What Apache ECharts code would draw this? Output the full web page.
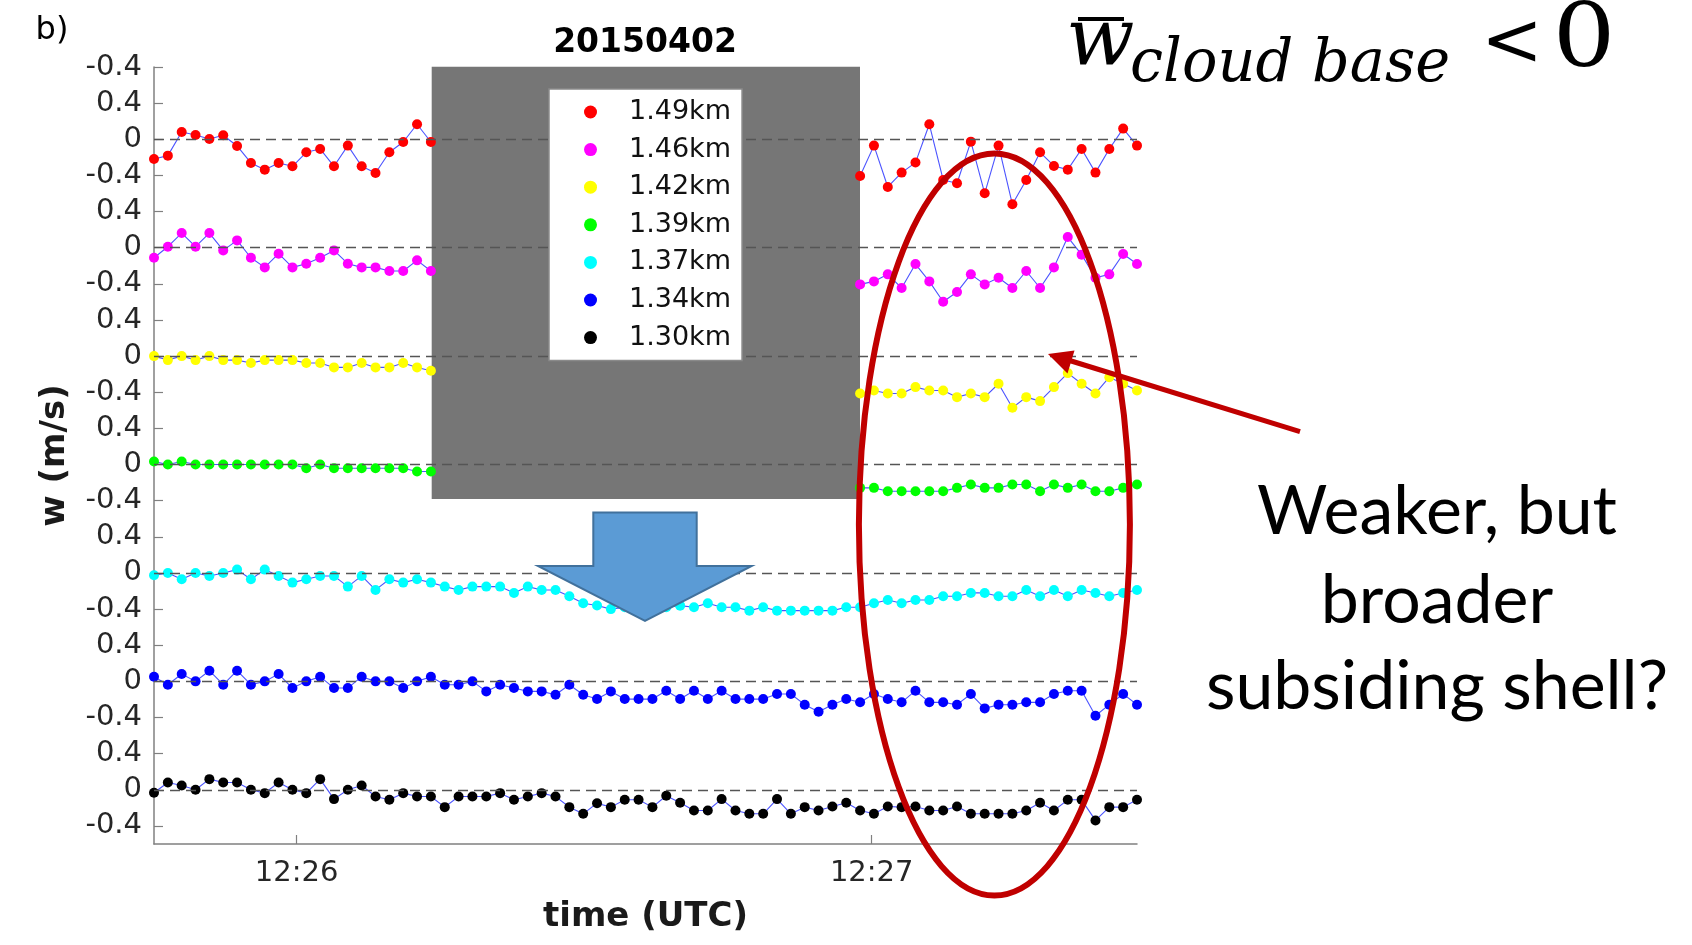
<!DOCTYPE html>
<html><head><meta charset="utf-8">
<script src="https://cdn.jsdelivr.net/npm/echarts@6/dist/echarts.min.js"></script>
<style>html,body{margin:0;padding:0;background:#fff}#c{width:1692px;height:945px}</style>
</head><body><div id="c"></div>
<script>
// ---- data ----
const seriesNames = ['1.49km','1.46km','1.42km','1.39km','1.37km','1.34km','1.30km'];
const markerColors = ['#ff0000','#ff00ff','#ffff00','#00ff00','#00ffff','#0000ff','#000000'];
const bandOffsets = [7.2, 6.0, 4.8, 3.6, 2.4, 1.2, 0];
// sample timing (seconds after 12:26:00)
const T0 = -14.87, DT = 1.4443;
const NSAMP = 72;
const GAP_START = 21, GAP_END = 51; // top four heights: samples 21..50 missing

// top four heights: samples 0..20 and 51..71
const red_a = [-0.218,-0.181,0.081,0.048,0.004,0.044,-0.074,-0.262,-0.336,-0.262,-0.299,-0.144,-0.107,-0.299,-0.070,-0.299,-0.373,-0.144,-0.030,0.166,-0.030];
const red_b = [-0.406,-0.070,-0.528,-0.369,-0.258,0.166,-0.450,-0.487,-0.026,-0.598,-0.070,-0.720,-0.450,-0.144,-0.295,-0.336,-0.107,-0.369,-0.107,0.118,-0.070];
const mag_a = [-0.111,0.011,0.162,0.011,0.162,-0.030,0.081,-0.111,-0.218,-0.066,-0.218,-0.177,-0.111,-0.030,-0.177,-0.218,-0.218,-0.258,-0.258,-0.140,-0.258];
const mag_b = [-0.406,-0.373,-0.295,-0.446,-0.181,-0.373,-0.598,-0.491,-0.295,-0.406,-0.332,-0.446,-0.258,-0.446,-0.218,0.118,-0.077,-0.332,-0.295,-0.070,-0.181];
const yel_a = [0,-0.044,0,-0.044,0,-0.044,-0.044,-0.077,-0.044,-0.044,-0.044,-0.077,-0.077,-0.125,-0.125,-0.077,-0.125,-0.125,-0.077,-0.125,-0.162];
const yel_b = [-0.413,-0.380,-0.413,-0.413,-0.343,-0.380,-0.380,-0.454,-0.413,-0.454,-0.306,-0.572,-0.454,-0.498,-0.343,-0.188,-0.306,-0.413,-0.233,-0.306,-0.380];
const grn_a = [0.033,0,0.033,0,0,0,0,0,0,0,0,-0.041,0,-0.041,-0.041,-0.041,-0.041,-0.041,-0.041,-0.077,-0.077];
const grn_b = [-0.258,-0.258,-0.295,-0.295,-0.295,-0.295,-0.295,-0.258,-0.221,-0.258,-0.258,-0.221,-0.221,-0.295,-0.221,-0.258,-0.221,-0.295,-0.295,-0.258,-0.221];
// lower three heights: all 72 samples
const cyan = [-0.026,0,-0.070,0,-0.033,0,0.037,-0.070,0.037,-0.033,-0.107,-0.070,-0.033,-0.033,-0.151,-0.033,-0.188,-0.070,-0.107,-0.070,
  -0.107,-0.151,-0.188,-0.151,-0.151,-0.151,-0.221,-0.151,-0.188,-0.188,-0.258,-0.336,-0.360,-0.400,-0.380,-0.360,-0.400,-0.380,-0.362,-0.380,
  -0.336,-0.380,-0.380,-0.417,-0.380,-0.417,-0.417,-0.417,-0.417,-0.417,-0.380,-0.380,-0.336,-0.299,-0.336,-0.299,-0.299,-0.258,-0.258,-0.221,
  -0.221,-0.258,-0.258,-0.188,-0.258,-0.188,-0.258,-0.188,-0.221,-0.258,-0.221,-0.188];
const blue = [0.052,-0.037,0.081,0,0.118,-0.037,0.118,-0.037,0,0.081,-0.074,0,0.052,-0.074,-0.074,0.052,0,0,-0.074,0,
  0.052,-0.037,-0.037,0,-0.111,-0.037,-0.074,-0.111,-0.111,-0.148,-0.037,-0.148,-0.196,-0.111,-0.196,-0.196,-0.196,-0.103,-0.196,-0.103,
  -0.196,-0.103,-0.196,-0.196,-0.196,-0.140,-0.140,-0.258,-0.336,-0.258,-0.196,-0.232,-0.140,-0.196,-0.232,-0.103,-0.232,-0.232,-0.258,-0.140,
  -0.299,-0.258,-0.258,-0.232,-0.232,-0.140,-0.103,-0.103,-0.380,-0.258,-0.140,-0.258];
const black = [-0.033,0.081,0.048,0,0.118,0.081,0.081,0,-0.037,0.081,0,-0.037,0.118,-0.103,0,0.048,-0.074,-0.111,-0.037,-0.074,
  -0.074,-0.192,-0.074,-0.074,-0.074,-0.037,-0.111,-0.074,-0.037,-0.074,-0.192,-0.266,-0.148,-0.192,-0.111,-0.111,-0.192,-0.066,-0.144,-0.229,
  -0.229,-0.103,-0.229,-0.266,-0.266,-0.103,-0.266,-0.192,-0.229,-0.185,-0.144,-0.229,-0.266,-0.185,-0.192,-0.185,-0.229,-0.229,-0.185,-0.266,
  -0.266,-0.266,-0.266,-0.229,-0.144,-0.229,-0.111,-0.111,-0.339,-0.192,-0.192,-0.111];

const yTickValues = [8.0,7.6,7.2,6.8,6.4,6.0,5.6,5.2,4.8,4.4,4.0,3.6,3.2,2.8,2.4,2.0,1.6,1.2,0.8,0.4,0,-0.4];
const yTickLabels = ['-0.4','0.4','0','-0.4','0.4','0','-0.4','0.4','0','-0.4','0.4','0','-0.4','0.4','0','-0.4','0.4','0','-0.4','0.4','0','-0.4'];
const xTickSeconds = [0, 60];
const xTickLabels = ['12:26','12:27'];

// ---- build ----
function tOf(i){ return T0 + DT * i; }
function splitSeries(a, b, off){
  const d = [];
  a.forEach((v,i)=>d.push([tOf(i), v + off]));
  d.push([tOf(GAP_START), '-']);
  b.forEach((v,i)=>d.push([tOf(GAP_END + i), v + off]));
  return d;
}
function fullSeries(a, off){ return a.map((v,i)=>[tOf(i), v + off]); }
const seriesData = [
  splitSeries(red_a, red_b, bandOffsets[0]),
  splitSeries(mag_a, mag_b, bandOffsets[1]),
  splitSeries(yel_a, yel_b, bandOffsets[2]),
  splitSeries(grn_a, grn_b, bandOffsets[3]),
  fullSeries(cyan, bandOffsets[4]),
  fullSeries(blue, bandOffsets[5]),
  fullSeries(black, bandOffsets[6])
];

const FONT = 'DejaVu Sans';
const series = seriesData.map((d, k) => ({
  name: seriesNames[k], type: 'line', data: d, clip: false,
  symbol: 'circle', symbolSize: 10, showSymbol: true, connectNulls: false,
  lineStyle: { color: 'rgba(30,40,255,0.8)', width: 1.1 },
  itemStyle: { color: markerColors[k] },
  emphasis: { disabled: true }, animation: false, z: 3,
  markLine: {
    silent: true, symbol: 'none', animation: false,
    label: { show: false },
    lineStyle: { color: '#555', type: [10, 6], width: 1.3 },
    data: [{ yAxis: bandOffsets[k] }]
  }
}));

const chart = echarts.init(document.getElementById('c'), null, { renderer: 'canvas' });
const ax = '#808080';
chart.setOption({
  animation: false,
  backgroundColor: '#fff',
  grid: { left: 154, top: 67, width: 983, height: 777, containLabel: false },
  xAxis: {
    type: 'value', min: T0, max: T0 + DT * (NSAMP - 1),
    axisLine: { show: true, onZero: false, lineStyle: { color: ax, width: 1.5 } },
    axisTick: { show: true, inside: true, length: 9, lineStyle: { color: ax, width: 1.2 }, customValues: xTickSeconds },
    axisLabel: { customValues: xTickSeconds, margin: 15, fontFamily: FONT, fontSize: 29, color: '#262626',
      formatter: v => xTickLabels[xTickSeconds.indexOf(Math.round(v))] },
    splitLine: { show: false },
    name: 'time (UTC)', nameLocation: 'middle', nameGap: 56,
    nameTextStyle: { fontFamily: FONT, fontWeight: 'bold', fontSize: 34, color: '#1a1a1a' }
  },
  yAxis: {
    type: 'value', min: -0.6, max: 8.0,
    axisLine: { show: true, onZero: false, lineStyle: { color: ax, width: 1.5 } },
    axisTick: { show: true, inside: true, length: 9, lineStyle: { color: ax, width: 1.2 }, customValues: yTickValues },
    axisLabel: { customValues: yTickValues, margin: 12, fontFamily: FONT, fontSize: 29, color: '#262626',
      formatter: v => yTickLabels[Math.round((8.0 - v) / 0.4)] },
    splitLine: { show: false },
    name: 'w (m/s)', nameLocation: 'middle', nameGap: 82, nameRotate: 90,
    nameTextStyle: { fontFamily: FONT, fontWeight: 'bold', fontSize: 34, color: '#1a1a1a' }
  },
  legend: {
    left: 549, top: 89, orient: 'vertical', selectedMode: false,
    backgroundColor: '#fff', borderColor: '#8a8a8a', borderWidth: 1.5, borderRadius: 0,
    padding: [8, 11, 8, 35], itemWidth: 13, itemHeight: 13, itemGap: 7.6, icon: 'circle',
    textStyle: { fontFamily: FONT, fontSize: 27, color: '#111', lineHeight: 30, padding: [0, 0, 0, 27] },
    data: seriesNames, z: 6
  },
  series: series,
  graphic: [
    { type: 'rect', z: 1, shape: { x: 431.7, y: 66.7, width: 428.3, height: 432.3 }, style: { fill: '#767676' } },
    { type: 'text', z: 10, x: 645, y: 43, style: { text: '20150402', font: 'bold 33px "DejaVu Sans"', fill: '#000', textAlign: 'center', textVerticalAlign: 'middle' } },
    { type: 'text', z: 10, x: 52, y: 31, style: { text: 'b)', font: '32px "DejaVu Sans"', fill: '#000', textAlign: 'center', textVerticalAlign: 'middle' } },
    { type: 'polygon', z: 10, shape: { points: [[593.3,512.6],[696.7,512.6],[696.7,566],[751.7,566],[645,621],[538,566],[593.3,566]] },
      style: { fill: '#5b9bd5', stroke: '#41719c', lineWidth: 2 } },
    { type: 'ellipse', z: 10, shape: { cx: 994.4, cy: 524.5, rx: 135.5, ry: 371 }, style: { fill: 'none', stroke: '#c00000', lineWidth: 6 } },
    { type: 'line', z: 10, shape: { x1: 1300, y1: 431.6, x2: 1068, y2: 360 }, style: { stroke: '#c00000', lineWidth: 5 } },
    { type: 'polygon', z: 10, shape: { points: [[1048,354],[1074.5,350.5],[1067.5,373.5]] }, style: { fill: '#c00000' } },
    { type: 'text', z: 10, x: 1437, y: 512, style: { text: 'Weaker, but', font: '68px Lato', fill: '#000', textAlign: 'center', textVerticalAlign: 'middle' } },
    { type: 'text', z: 10, x: 1437, y: 601, style: { text: 'broader', font: '68px Lato', fill: '#000', textAlign: 'center', textVerticalAlign: 'middle' } },
    { type: 'text', z: 10, x: 1437, y: 687, style: { text: 'subsiding shell?', font: '68px Lato', fill: '#000', textAlign: 'center', textVerticalAlign: 'middle' } },
    { type: 'text', z: 10, x: 1066, y: 44, style: { text: 'w', font: 'italic 80px "DejaVu Serif"', fill: '#000', textAlign: 'left', textVerticalAlign: 'middle' } },
    { type: 'line', z: 10, shape: { x1: 1078, y1: 19, x2: 1124, y2: 19 }, style: { stroke: '#000', lineWidth: 4 } },
    { type: 'text', z: 10, x: 1130, y: 66, style: { text: 'cloud base', font: 'italic 59px "DejaVu Serif"', fill: '#000', textAlign: 'left', textVerticalAlign: 'middle' } },
    { type: 'text', z: 10, x: 1512, y: 46, style: { text: '<', font: '74px "DejaVu Serif"', fill: '#000', textAlign: 'center', textVerticalAlign: 'middle' } },
    { type: 'text', z: 10, x: 1584, y: 43, scaleX: 1.12, style: { text: '0', font: '88px "DejaVu Serif"', fill: '#000', textAlign: 'center', textVerticalAlign: 'middle' } }
  ]
});
</script></body></html>
